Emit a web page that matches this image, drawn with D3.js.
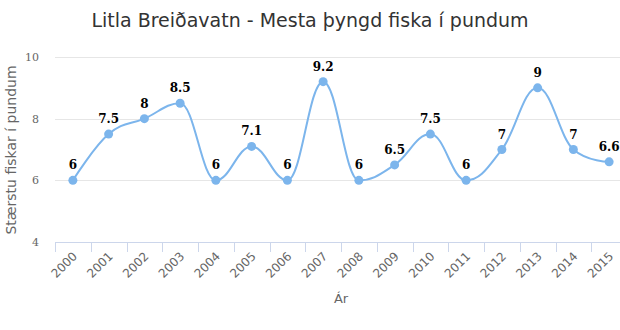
<!DOCTYPE html>
<html>
<head>
<meta charset="utf-8">
<script src="https://cdn.jsdelivr.net/npm/d3@7"></script>
<style>
  body { margin: 0; background: #fff; }
  svg { display: block; }
</style>
</head>
<body>
<div id="chart"></div>
<script>
// Litla Breiðavatn - heaviest fish per year, in pounds
var years = ["2000", "2001", "2002", "2003", "2004", "2005", "2006", "2007",
             "2008", "2009", "2010", "2011", "2012", "2013", "2014", "2015"];
var weights = [6, 7.5, 8, 8.5, 6, 7.1, 6, 9.2, 6, 6.5, 7.5, 6, 7, 9, 7, 6.6];
var yTicks = [4, 6, 8, 10];

var width = 620, height = 330;
var plotLeft = 55, plotTop = 57, plotBottom = 242, plotRight = 627;

var svg = d3.select("#chart").append("svg")
    .attr("width", width)
    .attr("height", height);

var x = d3.scaleBand().domain(years).range([plotLeft, plotRight]);
var y = d3.scaleLinear().domain([4, 10]).range([plotBottom, plotTop]);

// title
svg.append("text")
    .attr("x", 310)
    .attr("y", 27)
    .attr("text-anchor", "middle")
    .style("font-family", "DejaVu Sans")
    .style("font-size", "19px")
    .style("fill", "#333")
    .text("Litla Breiðavatn - Mesta þyngd fiska í pundum");

// horizontal grid + y labels
svg.selectAll(".grid").data(yTicks).enter().append("line")
    .attr("x1", plotLeft).attr("x2", width)
    .attr("y1", function(d) { return Math.round(y(d)) + 0.5; })
    .attr("y2", function(d) { return Math.round(y(d)) + 0.5; })
    .attr("stroke", "#e6e6e6");

svg.selectAll(".ylab").data(yTicks).enter().append("text")
    .attr("x", 39)
    .attr("y", function(d) { return y(d) + 4; })
    .attr("text-anchor", "end")
    .style("font-family", "DejaVu Serif")
    .style("font-size", "11px")
    .style("fill", "#666")
    .text(function(d) { return d; });

// y axis title
svg.append("text")
    .attr("transform", "translate(16,150) rotate(-90)")
    .attr("text-anchor", "middle")
    .style("font-family", "DejaVu Sans")
    .style("font-size", "14px")
    .style("fill", "#666")
    .text("Stærstu fiskar í pundum");

// x axis line and ticks on band edges
svg.append("line")
    .attr("x1", plotLeft).attr("x2", width)
    .attr("y1", plotBottom + 0.5).attr("y2", plotBottom + 0.5)
    .attr("stroke", "#ccd6eb");

svg.selectAll(".xtick").data(years).enter().append("line")
    .attr("x1", function(d) { return Math.round(x(d)) + 0.5; })
    .attr("x2", function(d) { return Math.round(x(d)) + 0.5; })
    .attr("y1", plotBottom).attr("y2", plotBottom + 10)
    .attr("stroke", "#ccd6eb");

svg.selectAll(".xlab").data(years).enter().append("text")
    .attr("transform", function(d) {
        return "translate(" + (x(d) + x.bandwidth() / 2 + 5) + "," + (plotBottom + 15) + ") rotate(-45)";
    })
    .attr("text-anchor", "end")
    .style("font-family", "DejaVu Sans")
    .style("font-size", "12px")
    .style("fill", "#666")
    .text(function(d) { return d; });

svg.append("text")
    .attr("x", (plotLeft + plotRight) / 2)
    .attr("y", 303)
    .attr("text-anchor", "middle")
    .style("font-family", "DejaVu Sans")
    .style("font-size", "13px")
    .style("fill", "#666")
    .text("Ár");

// spline with clamped control points so peaks don't overshoot
var pts = years.map(function(yr, i) {
    return { x: x(yr) + x.bandwidth() / 2, y: y(weights[i]), v: weights[i] };
});

function splinePath(p) {
    var path = d3.path(), s = 1.5, den = s + 1;
    path.moveTo(p[0].x, p[0].y);
    for (var i = 1; i < p.length; i++) {
        var cur = p[i], last = p[i - 1], next = p[i + 1];
        var lcx = cur.x, lcy = cur.y;
        if (next) {
            lcx = (s * cur.x + last.x) / den;
            lcy = (s * cur.y + last.y) / den;
            var rcx = (s * cur.x + next.x) / den;
            var rcy = (s * cur.y + next.y) / den;
            var corr = 0;
            if (rcx !== lcx) {
                corr = ((rcy - lcy) * (rcx - cur.x)) / (rcx - lcx) + cur.y - rcy;
            }
            lcy += corr; rcy += corr;
            if (lcy > last.y && lcy > cur.y) { lcy = Math.max(last.y, cur.y); rcy = 2 * cur.y - lcy; }
            else if (lcy < last.y && lcy < cur.y) { lcy = Math.min(last.y, cur.y); rcy = 2 * cur.y - lcy; }
            if (rcy > next.y && rcy > cur.y) { rcy = Math.max(next.y, cur.y); lcy = 2 * cur.y - rcy; }
            else if (rcy < next.y && rcy < cur.y) { rcy = Math.min(next.y, cur.y); lcy = 2 * cur.y - rcy; }
            cur.rcx = rcx; cur.rcy = rcy;
        }
        var c1x = last.rcx !== undefined ? last.rcx : last.x;
        var c1y = last.rcy !== undefined ? last.rcy : last.y;
        path.bezierCurveTo(c1x, c1y, lcx, lcy, cur.x, cur.y);
    }
    return path.toString();
}

svg.append("path")
    .attr("d", splinePath(pts))
    .attr("fill", "none")
    .attr("stroke", "#7cb5ec")
    .attr("stroke-width", 2)
    .attr("stroke-linejoin", "round")
    .attr("stroke-linecap", "round");

svg.selectAll(".dot").data(pts).enter().append("circle")
    .attr("cx", function(d) { return d.x; })
    .attr("cy", function(d) { return d.y; })
    .attr("r", 4.5)
    .attr("fill", "#7cb5ec");

// value labels above each point
svg.selectAll(".val").data(pts).enter().append("text")
    .attr("x", function(d) { return d.x; })
    .attr("y", function(d) { return d.y - 11; })
    .attr("text-anchor", "middle")
    .style("font-family", "DejaVu Serif")
    .style("font-weight", "bold")
    .style("font-size", "12px")
    .style("fill", "#000")
    .style("stroke", "#fff")
    .style("stroke-width", 2)
    .style("paint-order", "stroke")
    .text(function(d) { return d.v; });
</script>
</body>
</html>
